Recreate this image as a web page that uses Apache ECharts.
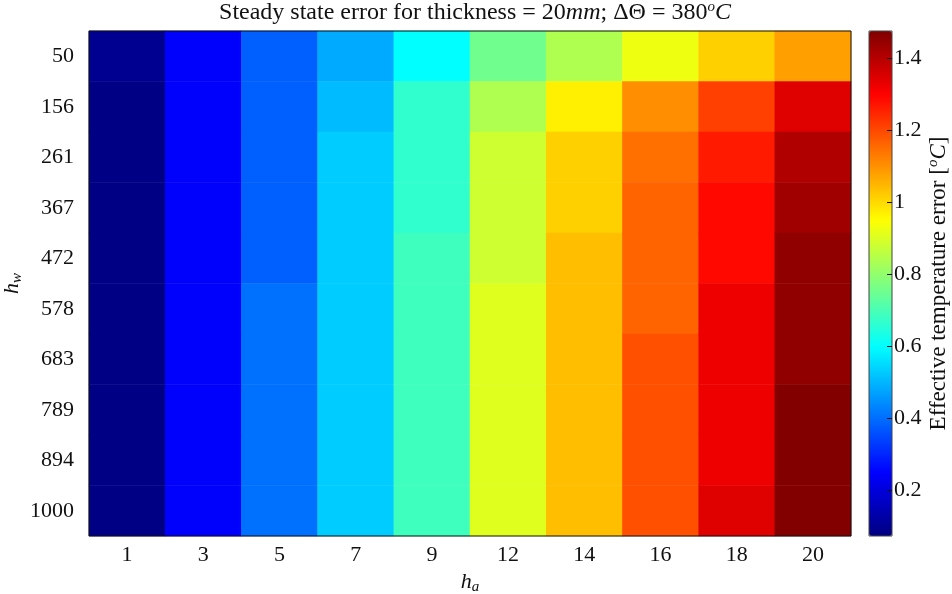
<!DOCTYPE html>
<html><head><meta charset="utf-8">
<script src="https://cdn.jsdelivr.net/npm/echarts@6/dist/echarts.min.js"></script>
<style>html,body{margin:0;padding:0;background:#fff}#c{width:952px;height:594px}</style>
</head><body><div id="c"></div>
<script>
// categories
const hA = ['1','3','5','7','9','12','14','16','18','20'];
const hW = ['50','156','261','367','472','578','683','789','894','1000'];
// error values per h_a column, rows ordered as hW
const err_ha1  = [0.095,0.080,0.080,0.080,0.080,0.080,0.080,0.080,0.080,0.080];
const err_ha3  = [0.245,0.245,0.245,0.245,0.245,0.245,0.245,0.245,0.245,0.245];
const err_ha5  = [0.379,0.379,0.379,0.379,0.379,0.402,0.402,0.402,0.402,0.402];
const err_ha7  = [0.482,0.505,0.528,0.528,0.528,0.528,0.528,0.528,0.528,0.528];
const err_ha9  = [0.598,0.665,0.665,0.665,0.686,0.686,0.686,0.686,0.686,0.686];
const err_ha12 = [0.753,0.839,0.883,0.883,0.883,0.906,0.906,0.906,0.906,0.906];
const err_ha14 = [0.839,0.972,1.014,1.014,1.037,1.037,1.037,1.037,1.037,1.037];
const err_ha16 = [0.927,1.104,1.146,1.163,1.163,1.163,1.190,1.190,1.190,1.190];
const err_ha18 = [1.014,1.212,1.265,1.289,1.289,1.324,1.324,1.324,1.324,1.344];
const err_ha20 = [1.080,1.344,1.409,1.431,1.453,1.453,1.453,1.470,1.470,1.470];
// colorbar
const colorTicks = [0.2,0.4,0.6,0.8,1,1.2,1.4];
const cMin = 0.072, cMax = 1.476;
const jet = ['#00007f','#0000ff','#007fff','#00ffff','#7fff7f','#ffff00','#ff7f00','#ff0000','#7f0000'];

const columns = [err_ha1,err_ha3,err_ha5,err_ha7,err_ha9,err_ha12,err_ha14,err_ha16,err_ha18,err_ha20];
const data = [];
columns.forEach((col, i) => col.forEach((v, j) => data.push([i, j, v])));

const FF = 'Liberation Serif';
const TC = '#111';
const chart = echarts.init(document.getElementById('c'), null, {renderer: 'canvas'});
chart.setOption({
  animation: false,
  backgroundColor: '#fff',
  title: {
    text: '{n|Steady state error for thickness = 20}{i|mm}{n|; ΔΘ = 380}{sup|o}{i|C}',
    left: 470, top: 0, textAlign: 'center', padding: [0, 5],
    textStyle: {
      fontFamily: FF, fontSize: 24, color: TC, fontWeight: 'normal',
      rich: {
        n: {fontFamily: FF, fontSize: 24, color: TC, lineHeight: 26},
        i: {fontFamily: FF, fontSize: 24, color: TC, fontStyle: 'italic', lineHeight: 26},
        sup: {fontFamily: FF, fontSize: 15, color: TC, fontStyle: 'italic', verticalAlign: 'top', lineHeight: 26}
      }
    }
  },
  grid: [
    {left: 89, right: 101, top: 31, bottom: 58, show: true, borderColor: '#111', borderWidth: 1, z: 10, backgroundColor: 'transparent', outerBoundsMode: 'none', containLabel: false},
    {left: 869, top: 31, width: 23, height: 505, show: true, borderColor: '#444', borderWidth: 1, z: 10, backgroundColor: 'transparent', outerBoundsMode: 'none', containLabel: false}
  ],
  xAxis: [
    {type: 'category', data: hA, gridIndex: 0, position: 'bottom',
     axisLine: {show: false, onZero: false}, splitLine: {show: false},
     axisTick: {inside: true, alignWithLabel: true, length: 7, lineStyle: {color: TC}},
     axisLabel: {fontFamily: FF, fontSize: 22, color: TC, margin: 8},
     name: '{h|h}{s|a}', nameLocation: 'middle', nameGap: 33,
     nameTextStyle: {rich: {
       h: {fontFamily: FF, fontSize: 22, fontStyle: 'italic', color: TC, lineHeight: 26},
       s: {fontFamily: FF, fontSize: 15, fontStyle: 'italic', color: TC, verticalAlign: 'bottom', lineHeight: 26}
     }}},
    {type: 'category', data: hA, gridIndex: 0, position: 'top',
     axisLine: {show: false, onZero: false}, splitLine: {show: false},
     axisTick: {inside: true, alignWithLabel: true, length: 7, lineStyle: {color: TC}},
     axisLabel: {show: false}},
    {type: 'value', gridIndex: 1, show: false, min: 0, max: 1}
  ],
  yAxis: [
    {type: 'category', data: hW, inverse: true, gridIndex: 0, position: 'left',
     axisLine: {show: false, onZero: false}, splitLine: {show: false},
     axisTick: {inside: true, alignWithLabel: true, length: 7, lineStyle: {color: TC}},
     axisLabel: {fontFamily: FF, fontSize: 22, color: TC, margin: 15},
     name: '{h|h}{s|w}', nameLocation: 'middle', nameGap: 64, nameRotate: 90, nameMoveOverlap: false,
     nameTextStyle: {rich: {
       h: {fontFamily: FF, fontSize: 22, fontStyle: 'italic', color: TC, lineHeight: 26},
       s: {fontFamily: FF, fontSize: 15, fontStyle: 'italic', color: TC, verticalAlign: 'bottom', lineHeight: 26}
     }}},
    {type: 'category', data: hW, inverse: true, gridIndex: 0, position: 'right',
     axisLine: {show: false, onZero: false}, splitLine: {show: false},
     axisTick: {inside: true, alignWithLabel: true, length: 7, lineStyle: {color: TC}},
     axisLabel: {show: false}},
    {type: 'value', gridIndex: 1, min: cMin, max: cMax, position: 'right', z: 10,
     axisLine: {show: false, onZero: false}, splitLine: {show: false},
     axisTick: {inside: true, length: 5, customValues: colorTicks, lineStyle: {color: TC}},
     axisLabel: {customValues: colorTicks, fontFamily: FF, fontSize: 22, color: TC, margin: 2},
     name: '{n|Effective temperature error [}{sup|o}{i|C}{n|]}', nameLocation: 'middle', nameRotate: 90, nameGap: 34,
     nameTextStyle: {rich: {
       n: {fontFamily: FF, fontSize: 23, color: TC, lineHeight: 26},
       i: {fontFamily: FF, fontSize: 23, fontStyle: 'italic', color: TC, lineHeight: 26},
       sup: {fontFamily: FF, fontSize: 15, fontStyle: 'italic', color: TC, verticalAlign: 'top', lineHeight: 26}
     }}}
  ],
  visualMap: {
    type: 'continuous', min: cMin, max: cMax, dimension: 2, seriesIndex: 0,
    inRange: {color: jet}, left: 869, top: 31, itemWidth: 23, itemHeight: 505,
    padding: 0, calculable: false, orient: 'vertical', hoverLink: false, z: 4
  },
  series: [{
    type: 'heatmap', xAxisIndex: 0, yAxisIndex: 0, data: data,
    itemStyle: {borderWidth: 0}, emphasis: {disabled: true}, progressive: 0
  }]
});
</script></body></html>
